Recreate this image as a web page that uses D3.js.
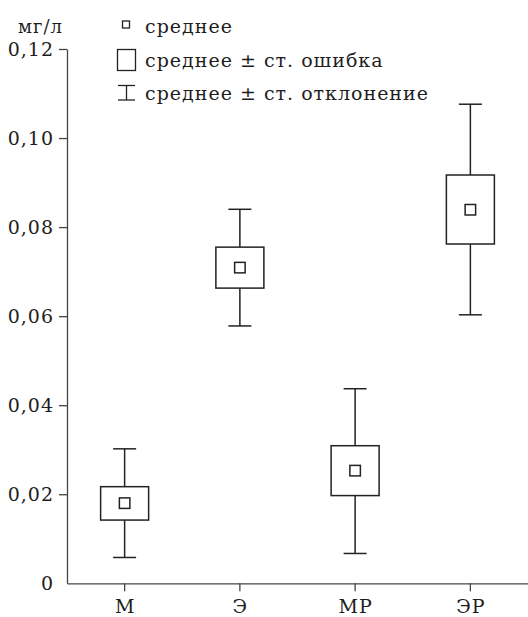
<!DOCTYPE html>
<meta charset="utf-8">
<style type="text/css">
    body { margin: 0; background: #fff; }
    text { font-family: "DejaVu Serif", serif; fill: #1e1e1e; letter-spacing: 1px; }
</style>
<svg width="528" height="617"></svg>
<script type="text/javascript" src="https://cdn.jsdelivr.net/npm/d3@7"></script>
<script type="text/javascript">

    // values (мг/л)
    let categories = ["М", "Э", "МР", "ЭР"];
    let means  = [0.0180, 0.0709, 0.0253, 0.0839];
    let seLow  = [0.0142, 0.0663, 0.0197, 0.0762];
    let seHigh = [0.0217, 0.0755, 0.0309, 0.0917];
    let sdLow  = [0.0058, 0.0578, 0.0067, 0.0603];
    let sdHigh = [0.0302, 0.0840, 0.0437, 0.1076];
    let yTicks = [0, 0.02, 0.04, 0.06, 0.08, 0.10, 0.12];
    let legendLabels = ["среднее", "среднее ± ст. ошибка", "среднее ± ст. отклонение"];

    var svg = d3.select("svg"),
        width = +svg.attr("width"),
        height = +svg.attr("height"),
        plotLeft = 67, plotBottom = 583.3, plotTop = 49;

    var x = d3.scaleBand().domain(categories).range([plotLeft, width]).padding(0);
    var y = d3.scaleLinear().domain([0, 0.12]).range([plotBottom, plotTop]);

    var data = categories.map(function(c, i) {
        return { cat: c, mean: means[i], seLow: seLow[i], seHigh: seHigh[i], sdLow: sdLow[i], sdHigh: sdHigh[i] };
    });

    var fmt = function(d) { return d === 0 ? "0" : d3.format(".2f")(d).replace(".", ","); };

    // y axis
    var gy = svg.append("g").attr("transform", "translate(" + plotLeft + ",0)")
        .call(d3.axisLeft(y).tickValues(yTicks).tickFormat(fmt).tickSize(8).tickPadding(5).tickSizeOuter(0));
    gy.select(".domain").attr("stroke", "#444").attr("stroke-width", 1.3);
    gy.selectAll(".tick line").attr("stroke", "#444").attr("stroke-width", 1.3)
        .filter(function(d) { return d === 0; }).remove();
    gy.selectAll(".tick text").attr("font-size", 19).attr("font-family", "DejaVu Serif").attr("fill", "#1e1e1e");

    // x axis
    var gx = svg.append("g").attr("transform", "translate(0," + plotBottom + ")")
        .call(d3.axisBottom(x).tickSize(8).tickPadding(8).tickSizeOuter(0));
    gx.select(".domain").attr("stroke", "#444").attr("stroke-width", 1.3);
    gx.selectAll(".tick line").attr("stroke", "#444").attr("stroke-width", 1.3);
    gx.selectAll(".tick text").attr("font-size", 19).attr("font-family", "DejaVu Serif").attr("fill", "#1e1e1e")
        .attr("dx", "0.5");

    // units
    svg.append("text").attr("x", 18).attr("y", 33).attr("font-size", 18).text("мг/л");

    var boxW = 48, capW = 23, markW = 10.5;
    var cx = function(d) { return x(d.cat) + x.bandwidth() / 2; };

    var groups = svg.selectAll("g.item")
        .data(data)
        .enter()
        .append("g")
        .attr("class", "item")
        .attr("stroke", "#222")
        .attr("stroke-width", 1.5)
        .attr("fill", "none");

    // whiskers
    groups.append("line")
        .attr("x1", cx).attr("x2", cx)
        .attr("y1", function(d) { return y(d.sdHigh); })
        .attr("y2", function(d) { return y(d.seHigh); });
    groups.append("line")
        .attr("x1", cx).attr("x2", cx)
        .attr("y1", function(d) { return y(d.seLow); })
        .attr("y2", function(d) { return y(d.sdLow); });
    groups.append("line")
        .attr("x1", function(d) { return cx(d) - capW / 2; })
        .attr("x2", function(d) { return cx(d) + capW / 2; })
        .attr("y1", function(d) { return y(d.sdHigh); })
        .attr("y2", function(d) { return y(d.sdHigh); });
    groups.append("line")
        .attr("x1", function(d) { return cx(d) - capW / 2; })
        .attr("x2", function(d) { return cx(d) + capW / 2; })
        .attr("y1", function(d) { return y(d.sdLow); })
        .attr("y2", function(d) { return y(d.sdLow); });

    // se box
    groups.append("rect")
        .attr("x", function(d) { return cx(d) - boxW / 2; })
        .attr("y", function(d) { return y(d.seHigh); })
        .attr("width", boxW)
        .attr("height", function(d) { return y(d.seLow) - y(d.seHigh); })
        .attr("fill", "#fff");

    // mean marker
    groups.append("rect")
        .attr("x", function(d) { return cx(d) - markW / 2; })
        .attr("y", function(d) { return y(d.mean) - markW / 2; })
        .attr("width", markW)
        .attr("height", markW)
        .attr("fill", "#fff");

    // legend
    var lg = svg.append("g").attr("stroke", "#222").attr("stroke-width", 1.3).attr("fill", "none");
    lg.append("rect").attr("x", 122.5).attr("y", 21).attr("width", 7).attr("height", 7);
    lg.append("rect").attr("x", 117.5).attr("y", 49.5).attr("width", 18).attr("height", 21);
    lg.append("line").attr("x1", 126.5).attr("x2", 126.5).attr("y1", 85.5).attr("y2", 100);
    lg.append("line").attr("x1", 118).attr("x2", 135).attr("y1", 85.5).attr("y2", 85.5);
    lg.append("line").attr("x1", 118).attr("x2", 135).attr("y1", 100).attr("y2", 100);

    svg.selectAll("text.legend")
        .data(legendLabels)
        .enter()
        .append("text")
        .attr("class", "legend")
        .attr("x", 145)
        .attr("y", function(d, i) { return 33 + i * 33.5; })
        .attr("font-size", 19)
        .text(function(d) { return d; });

</script>
